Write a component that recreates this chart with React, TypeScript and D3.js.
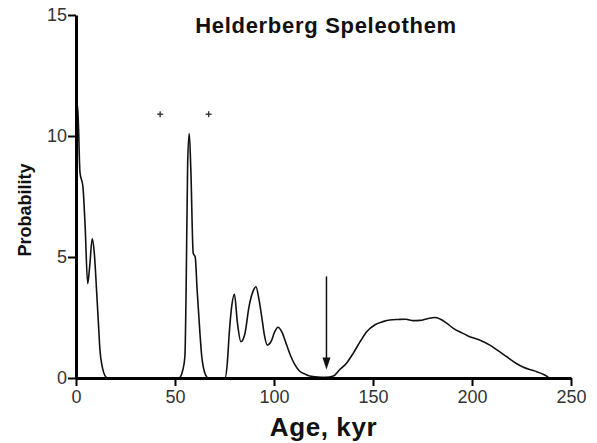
import { useEffect, useRef } from "react";
import * as d3 from "d3";

// age (kyr) and probability
const ages = [
  0, 0.8, 2, 3.5, 4.6, 5.9, 6.9, 8.2, 9.3, 10.4, 11.3, 12.1, 13.3, 14.6, 16,
  30, 45, 52, 54, 55, 55.6, 56.4, 57.2, 58, 59.2, 60.2, 61.2, 62.6, 63.5, 64.3, 65.5, 66.7,
  71, 75.3, 76.4, 77.4, 78.7, 80, 81.5, 83.3, 85.2, 87.5, 89.5, 90.9, 92.3, 93.8, 95.2,
  96.6, 98.5, 100.3, 102, 104, 106.4, 108.5, 110.6, 113, 115.7, 118, 122, 126, 130,
  133, 136.5, 140, 143.5, 146.8, 151, 155, 158.5, 162.8, 166.5, 170.4, 173.7, 177.5,
  181.3, 183.8, 187, 190.6, 194.5, 198, 203.5, 209, 213, 217.5, 222, 226, 229.5, 232.7,
  235.5, 237.7, 239
];
const probability = [
  11.0, 11.3, 8.5, 7.9, 6.3, 3.9, 4.6, 5.75, 5.1, 3.6, 2.3, 1.15, 0.45, 0.1, 0,
  0, 0, 0, 0.35, 0.9, 3.5, 8.9, 10.1, 8.6, 5.15, 5.0, 3.6, 1.85, 0.9, 0.45, 0.12, 0,
  0, 0, 0.6, 1.85, 3.0, 3.46, 2.3, 1.5, 1.8, 3.0, 3.6, 3.77, 3.3, 2.53, 1.75,
  1.36, 1.5, 1.9, 2.1, 1.9, 1.36, 0.9, 0.54, 0.28, 0.16, 0.08, 0.04, 0.03, 0.08,
  0.33, 0.6, 1.02, 1.5, 1.91, 2.2, 2.33, 2.4, 2.42, 2.43, 2.37, 2.38, 2.45,
  2.5, 2.44, 2.28, 2.05, 1.88, 1.74, 1.58, 1.36, 1.14, 0.88, 0.62, 0.44, 0.34, 0.26,
  0.17, 0.08, 0
];

const xTicks = [0, 50, 100, 150, 200, 250];
const yTicks = [0, 5, 10, 15];
const plusAges = [42.5, 67];
const plusLevel = 10.9;
const arrowAge = 126.5;
const arrowFrom = 4.2;
const arrowTo = 0.35;

export default function App() {
  const svgRef = useRef(null);

  useEffect(() => {
    const svg = d3.select(svgRef.current);
    svg.selectAll("*").remove();

    const width = 597;
    const height = 443;
    const margin = { top: 15, right: 26, bottom: 65, left: 76 };
    const font = "'Liberation Sans', Arial, sans-serif";

    const x = d3.scaleLinear().domain([0, 250]).range([margin.left, width - margin.right]);
    const y = d3.scaleLinear().domain([0, 15]).range([height - margin.bottom, margin.top]);

    const points = ages.map((a, i) => [a, probability[i]]);
    const line = d3
      .line()
      .x((d) => x(d[0]))
      .y((d) => y(d[1]))
      .curve(d3.curveMonotoneX);

    svg
      .append("path")
      .datum(points)
      .attr("d", line)
      .attr("fill", "none")
      .attr("stroke", "#111")
      .attr("stroke-width", 1.6);

    const xAxis = svg
      .append("g")
      .attr("transform", `translate(0,${y(0)})`)
      .call(d3.axisBottom(x).tickValues(xTicks).tickSize(8).tickSizeOuter(0).tickPadding(4));
    xAxis.select(".domain").attr("stroke", "#000").attr("stroke-width", 3);
    xAxis.selectAll(".tick line").attr("stroke", "#000").attr("stroke-width", 2);
    xAxis
      .selectAll("text")
      .attr("fill", "#333")
      .style("font-family", font)
      .style("font-size", "18px");

    const yAxis = svg
      .append("g")
      .attr("transform", `translate(${x(0)},0)`)
      .call(d3.axisLeft(y).tickValues(yTicks).tickSize(8).tickSizeOuter(0).tickPadding(1));
    yAxis.select(".domain").attr("stroke", "#000").attr("stroke-width", 3);
    yAxis.selectAll(".tick line").attr("stroke", "#000").attr("stroke-width", 2);
    yAxis
      .selectAll("text")
      .attr("fill", "#333")
      .style("font-family", font)
      .style("font-size", "18px");

    // plus marks
    const plus = svg.append("g").attr("stroke", "#333").attr("stroke-width", 1.4);
    plusAges.forEach((a) => {
      plus.append("line").attr("x1", x(a) - 3).attr("x2", x(a) + 3).attr("y1", y(plusLevel)).attr("y2", y(plusLevel));
      plus.append("line").attr("x1", x(a)).attr("x2", x(a)).attr("y1", y(plusLevel) - 3).attr("y2", y(plusLevel) + 3);
    });

    // arrow
    svg
      .append("line")
      .attr("x1", x(arrowAge))
      .attr("x2", x(arrowAge))
      .attr("y1", y(arrowFrom))
      .attr("y2", y(arrowTo) - 10)
      .attr("stroke", "#111")
      .attr("stroke-width", 1.5);
    svg
      .append("path")
      .attr("d", `M${x(arrowAge) - 4},${y(arrowTo) - 12} L${x(arrowAge) + 4},${y(arrowTo) - 12} L${x(arrowAge)},${y(arrowTo)} Z`)
      .attr("fill", "#111");

    svg
      .append("text")
      .attr("x", 326)
      .attr("y", 33)
      .attr("text-anchor", "middle")
      .style("font-family", font)
      .style("font-weight", "bold")
      .style("font-size", "22px")
      .style("letter-spacing", "0.7px")
      .attr("fill", "#111")
      .text("Helderberg Speleothem");

    svg
      .append("text")
      .attr("x", (x(0) + x(250)) / 2)
      .attr("y", 436)
      .attr("text-anchor", "middle")
      .style("font-family", font)
      .style("font-weight", "bold")
      .style("font-size", "26px")
      .style("letter-spacing", "0.6px")
      .attr("fill", "#111")
      .text("Age, kyr");

    svg
      .append("text")
      .attr("transform", "translate(31,210) rotate(-90)")
      .attr("text-anchor", "middle")
      .style("font-family", font)
      .style("font-weight", "bold")
      .style("font-size", "18px")
      .attr("fill", "#111")
      .text("Probability");
  }, []);

  return (
    <svg
      ref={svgRef}
      width={597}
      height={443}
      style={{ position: "absolute", left: 0, top: 0, background: "#fff" }}
    />
  );
}
